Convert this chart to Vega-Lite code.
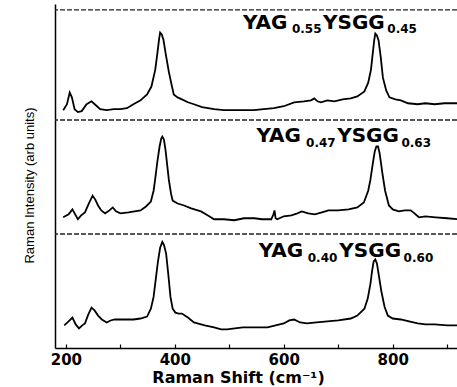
{
  "$schema": "https://vega.github.io/schema/vega-lite/v6.json",
  "width": 402,
  "height": 344,
  "padding": {"left": 55, "top": 4, "right": 0, "bottom": 39},
  "autosize": "none",
  "background": "white",
  "config": {"view": {"stroke": null}},
  "datasets": {
    "spectra": [
      {"panel":"A","shift":195,"v":242},{"panel":"A","shift":202,"v":248},{"panel":"A","shift":207,"v":260},{"panel":"A","shift":211,"v":255},{"panel":"A","shift":216,"v":243},{"panel":"A","shift":222,"v":240},{"panel":"A","shift":229,"v":241},{"panel":"A","shift":238,"v":248},{"panel":"A","shift":247,"v":251},{"panel":"A","shift":255,"v":247},{"panel":"A","shift":263,"v":243},{"panel":"A","shift":275,"v":242},{"panel":"A","shift":288,"v":243},{"panel":"A","shift":300,"v":243},{"panel":"A","shift":312,"v":244},{"panel":"A","shift":324,"v":248},{"panel":"A","shift":337,"v":252},{"panel":"A","shift":349,"v":258},{"panel":"A","shift":357,"v":266},{"panel":"A","shift":364,"v":283},{"panel":"A","shift":368,"v":300},{"panel":"A","shift":371,"v":314},{"panel":"A","shift":373,"v":321},{"panel":"A","shift":376,"v":319},{"panel":"A","shift":379,"v":314},{"panel":"A","shift":383,"v":300},{"panel":"A","shift":389,"v":281},{"panel":"A","shift":394,"v":268},{"panel":"A","shift":398,"v":258},{"panel":"A","shift":405,"v":255},{"panel":"A","shift":413,"v":253},{"panel":"A","shift":424,"v":250},{"panel":"A","shift":435,"v":248},{"panel":"A","shift":450,"v":245},{"panel":"A","shift":472,"v":243},{"panel":"A","shift":490,"v":242},{"panel":"A","shift":508,"v":242},{"panel":"A","shift":527,"v":242},{"panel":"A","shift":545,"v":242},{"panel":"A","shift":563,"v":243},{"panel":"A","shift":582,"v":244},{"panel":"A","shift":600,"v":246},{"panel":"A","shift":619,"v":250},{"panel":"A","shift":637,"v":251},{"panel":"A","shift":650,"v":252},{"panel":"A","shift":656,"v":254},{"panel":"A","shift":662,"v":251},{"panel":"A","shift":668,"v":250},{"panel":"A","shift":680,"v":252},{"panel":"A","shift":693,"v":251},{"panel":"A","shift":708,"v":253},{"panel":"A","shift":723,"v":254},{"panel":"A","shift":735,"v":256},{"panel":"A","shift":748,"v":261},{"panel":"A","shift":755,"v":270},{"panel":"A","shift":760,"v":283},{"panel":"A","shift":763,"v":298},{"panel":"A","shift":766,"v":313},{"panel":"A","shift":768,"v":320},{"panel":"A","shift":771,"v":318},{"panel":"A","shift":774,"v":313},{"panel":"A","shift":778,"v":296},{"panel":"A","shift":782,"v":275},{"panel":"A","shift":788,"v":262},{"panel":"A","shift":794,"v":255},{"panel":"A","shift":805,"v":253},{"panel":"A","shift":815,"v":252},{"panel":"A","shift":828,"v":249},{"panel":"A","shift":846,"v":248},{"panel":"A","shift":860,"v":249},{"panel":"A","shift":877,"v":248},{"panel":"A","shift":895,"v":249},{"panel":"A","shift":919,"v":249},
      {"panel":"B","shift":195,"v":133},{"panel":"B","shift":205,"v":136},{"panel":"B","shift":212,"v":141},{"panel":"B","shift":217,"v":136},{"panel":"B","shift":222,"v":131},{"panel":"B","shift":228,"v":135},{"panel":"B","shift":235,"v":138},{"panel":"B","shift":242,"v":147},{"panel":"B","shift":249,"v":155},{"panel":"B","shift":254,"v":151},{"panel":"B","shift":259,"v":145},{"panel":"B","shift":265,"v":140},{"panel":"B","shift":272,"v":137},{"panel":"B","shift":280,"v":140},{"panel":"B","shift":286,"v":143},{"panel":"B","shift":292,"v":139},{"panel":"B","shift":300,"v":137},{"panel":"B","shift":315,"v":138},{"panel":"B","shift":326,"v":139},{"panel":"B","shift":337,"v":140},{"panel":"B","shift":347,"v":144},{"panel":"B","shift":356,"v":149},{"panel":"B","shift":361,"v":160},{"panel":"B","shift":364,"v":172},{"panel":"B","shift":368,"v":190},{"panel":"B","shift":372,"v":205},{"panel":"B","shift":375,"v":213},{"panel":"B","shift":377,"v":215},{"panel":"B","shift":380,"v":212},{"panel":"B","shift":383,"v":201},{"panel":"B","shift":386,"v":186},{"panel":"B","shift":389,"v":171},{"panel":"B","shift":393,"v":157},{"panel":"B","shift":396,"v":150},{"panel":"B","shift":405,"v":147},{"panel":"B","shift":417,"v":145},{"panel":"B","shift":430,"v":142},{"panel":"B","shift":448,"v":139},{"panel":"B","shift":460,"v":135},{"panel":"B","shift":472,"v":131},{"panel":"B","shift":490,"v":131},{"panel":"B","shift":509,"v":130},{"panel":"B","shift":527,"v":132},{"panel":"B","shift":546,"v":132},{"panel":"B","shift":560,"v":131},{"panel":"B","shift":577,"v":131},{"panel":"B","shift":581,"v":136},{"panel":"B","shift":583,"v":140},{"panel":"B","shift":585,"v":132},{"panel":"B","shift":588,"v":131},{"panel":"B","shift":600,"v":134},{"panel":"B","shift":614,"v":135},{"panel":"B","shift":625,"v":137},{"panel":"B","shift":633,"v":139},{"panel":"B","shift":645,"v":137},{"panel":"B","shift":657,"v":136},{"panel":"B","shift":670,"v":138},{"panel":"B","shift":682,"v":140},{"panel":"B","shift":700,"v":140},{"panel":"B","shift":719,"v":141},{"panel":"B","shift":735,"v":143},{"panel":"B","shift":747,"v":148},{"panel":"B","shift":755,"v":160},{"panel":"B","shift":759,"v":171},{"panel":"B","shift":763,"v":186},{"panel":"B","shift":767,"v":200},{"panel":"B","shift":770,"v":205},{"panel":"B","shift":773,"v":205},{"panel":"B","shift":776,"v":198},{"panel":"B","shift":781,"v":178},{"panel":"B","shift":786,"v":160},{"panel":"B","shift":793,"v":145},{"panel":"B","shift":800,"v":141},{"panel":"B","shift":811,"v":139},{"panel":"B","shift":822,"v":140},{"panel":"B","shift":833,"v":140},{"panel":"B","shift":840,"v":137},{"panel":"B","shift":848,"v":133},{"panel":"B","shift":860,"v":134},{"panel":"B","shift":879,"v":133},{"panel":"B","shift":900,"v":132},{"panel":"B","shift":922,"v":131},
      {"panel":"C","shift":197,"v":23},{"panel":"C","shift":205,"v":27},{"panel":"C","shift":212,"v":31},{"panel":"C","shift":218,"v":24},{"panel":"C","shift":224,"v":20},{"panel":"C","shift":230,"v":23},{"panel":"C","shift":235,"v":25},{"panel":"C","shift":241,"v":34},{"panel":"C","shift":247,"v":41},{"panel":"C","shift":253,"v":38},{"panel":"C","shift":259,"v":33},{"panel":"C","shift":266,"v":29},{"panel":"C","shift":275,"v":26},{"panel":"C","shift":282,"v":28},{"panel":"C","shift":290,"v":29},{"panel":"C","shift":305,"v":29},{"panel":"C","shift":324,"v":29},{"panel":"C","shift":337,"v":30},{"panel":"C","shift":349,"v":32},{"panel":"C","shift":356,"v":40},{"panel":"C","shift":361,"v":52},{"panel":"C","shift":365,"v":70},{"panel":"C","shift":369,"v":88},{"panel":"C","shift":373,"v":102},{"panel":"C","shift":377,"v":108},{"panel":"C","shift":380,"v":105},{"panel":"C","shift":384,"v":96},{"panel":"C","shift":388,"v":75},{"panel":"C","shift":392,"v":52},{"panel":"C","shift":396,"v":40},{"panel":"C","shift":401,"v":36},{"panel":"C","shift":407,"v":35},{"panel":"C","shift":413,"v":35},{"panel":"C","shift":424,"v":31},{"panel":"C","shift":435,"v":26},{"panel":"C","shift":455,"v":23},{"panel":"C","shift":472,"v":21},{"panel":"C","shift":485,"v":19},{"panel":"C","shift":496,"v":19},{"panel":"C","shift":510,"v":20},{"panel":"C","shift":525,"v":21},{"panel":"C","shift":539,"v":21},{"panel":"C","shift":555,"v":21},{"panel":"C","shift":570,"v":21},{"panel":"C","shift":585,"v":23},{"panel":"C","shift":600,"v":25},{"panel":"C","shift":610,"v":28},{"panel":"C","shift":619,"v":29},{"panel":"C","shift":630,"v":26},{"panel":"C","shift":643,"v":25},{"panel":"C","shift":660,"v":26},{"panel":"C","shift":680,"v":27},{"panel":"C","shift":700,"v":28},{"panel":"C","shift":723,"v":30},{"panel":"C","shift":735,"v":33},{"panel":"C","shift":748,"v":40},{"panel":"C","shift":754,"v":50},{"panel":"C","shift":759,"v":65},{"panel":"C","shift":762,"v":78},{"panel":"C","shift":765,"v":88},{"panel":"C","shift":768,"v":90},{"panel":"C","shift":771,"v":86},{"panel":"C","shift":775,"v":72},{"panel":"C","shift":779,"v":58},{"panel":"C","shift":785,"v":42},{"panel":"C","shift":791,"v":33},{"panel":"C","shift":800,"v":30},{"panel":"C","shift":815,"v":29},{"panel":"C","shift":830,"v":27},{"panel":"C","shift":846,"v":25},{"panel":"C","shift":860,"v":24},{"panel":"C","shift":877,"v":24},{"panel":"C","shift":900,"v":23},{"panel":"C","shift":920,"v":23}
    ],
    "labels": [
      {"kind":"main","t":"YAG","x":525,"v":325},{"kind":"sub","t":"0.55","x":615,"v":320},{"kind":"main","t":"YSGG","x":672,"v":325},{"kind":"sub","t":"0.45","x":790,"v":320},
      {"kind":"main","t":"YAG","x":550,"v":210},{"kind":"sub","t":"0.47","x":641,"v":204},{"kind":"main","t":"YSGG","x":698,"v":210},{"kind":"sub","t":"0.63","x":816,"v":204},
      {"kind":"main","t":"YAG","x":554,"v":93},{"kind":"sub","t":"0.40","x":644,"v":88},{"kind":"main","t":"YSGG","x":702,"v":93},{"kind":"sub","t":"0.60","x":820,"v":88}
    ],
    "separators": [{"v":344},{"v":232},{"v":116}]
  },
  "layer": [
    {
      "data": {"name": "separators"},
      "mark": {"type": "rule", "color": "#222", "strokeWidth": 1.3, "strokeDash": [5, 2]},
      "encoding": {"y": {"field": "v", "type": "quantitative", "scale": {"domain": [0, 344]}}}
    },
    {
      "data": {"name": "spectra"},
      "mark": {"type": "line", "color": "black", "strokeWidth": 1.8, "clip": true},
      "encoding": {
        "x": {"field": "shift", "type": "quantitative",
          "scale": {"domain": [180, 918], "nice": false, "zero": false},
          "axis": {"title": "Raman Shift (cm⁻¹)", "values": [200,300,400,500,600,700,800,900],
            "labelExpr": "datum.value % 200 == 0 ? datum.label : ''",
            "grid": false, "domainColor": "black", "domainWidth": 1.5, "tickColor": "black", "tickSize": -4, "tickWidth": 1.2,
            "labelFont": "DejaVu Sans", "labelFontWeight": "bold", "labelFontSize": 15, "labelColor": "black", "labelPadding": 8,
            "titleFont": "DejaVu Sans", "titleFontWeight": "bold", "titleFontSize": 16, "titleColor": "black", "titlePadding": 2, "titleX": 183}},
        "y": {"field": "v", "type": "quantitative", "scale": {"domain": [0, 344]},
          "axis": {"title": "Raman Intensity (arb units)", "labels": false, "ticks": false, "grid": false,
            "domainColor": "black", "domainWidth": 1.5,
            "titleFont": "Liberation Sans", "titleFontWeight": "normal", "titleFontSize": 13, "titleColor": "black", "titlePadding": 19, "titleY": 181}},
        "detail": {"field": "panel"}
      }
    },
    {
      "data": {"name": "labels"},
      "transform": [{"filter": "datum.kind == 'main'"}],
      "mark": {"type": "text", "font": "DejaVu Sans", "fontWeight": "bold", "fontSize": 20, "align": "left", "baseline": "alphabetic", "color": "black"},
      "encoding": {"x": {"field": "x", "type": "quantitative"}, "y": {"field": "v", "type": "quantitative"}, "text": {"field": "t"}}
    },
    {
      "data": {"name": "labels"},
      "transform": [{"filter": "datum.kind == 'sub'"}],
      "mark": {"type": "text", "font": "DejaVu Sans", "fontWeight": "bold", "fontSize": 12, "align": "left", "baseline": "alphabetic", "color": "black"},
      "encoding": {"x": {"field": "x", "type": "quantitative"}, "y": {"field": "v", "type": "quantitative"}, "text": {"field": "t"}}
    }
  ]
}
